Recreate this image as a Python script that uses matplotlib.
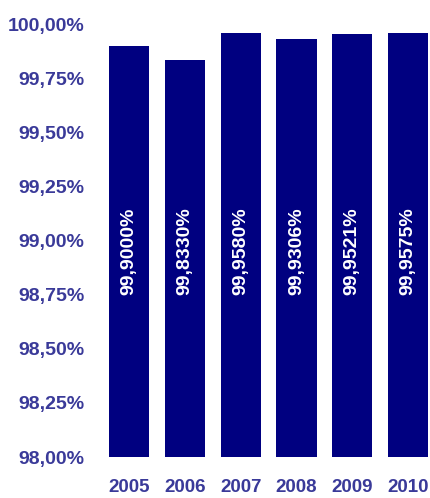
import matplotlib
matplotlib.use("Agg")
import matplotlib.pyplot as plt

plt.rcParams['font.family'] = ['Liberation Sans', 'DejaVu Sans']

# Yearly availability figures
years = ["2005", "2006", "2007", "2008", "2009", "2010"]
values = [99.9000, 99.8330, 99.9580, 99.9306, 99.9521, 99.9575]
yticks = [98.00, 98.25, 98.50, 98.75, 99.00, 99.25, 99.50, 99.75, 100.00]

bar_color = "#000080"
label_color = "#3a3a99"

fig = plt.figure(figsize=(4.30, 4.98), dpi=100)
ax = fig.add_axes([101 / 430, 1 - 457 / 498, 329 / 430, (457 - 24) / 498])

x = range(len(years))
ax.bar(x, values, width=0.72, color=bar_color, bottom=0)
ax.set_ylim(98, 100)
ax.set_xlim(-0.5, 5.39)

for i, v in zip(x, values):
    txt = ("%.4f%%" % v).replace(".", ",")
    ax.text(i, 98.95, txt, rotation=90, ha="center", va="center",
            color="white", fontsize=14, fontweight="bold")

ax.set_yticks(yticks)
ax.set_yticklabels([("%.2f%%" % t).replace(".", ",") for t in yticks])
ax.set_xticks(list(x))
ax.set_xticklabels(years)
ax.tick_params(axis="both", length=0, labelsize=14, labelcolor=label_color)
ax.tick_params(axis="y", pad=12)
ax.tick_params(axis="x", pad=16, labelsize=13.5)
for lbl in ax.get_xticklabels() + ax.get_yticklabels():
    lbl.set_fontweight("bold")

for s in ax.spines.values():
    s.set_visible(False)

fig.savefig("out.png", dpi=100)
